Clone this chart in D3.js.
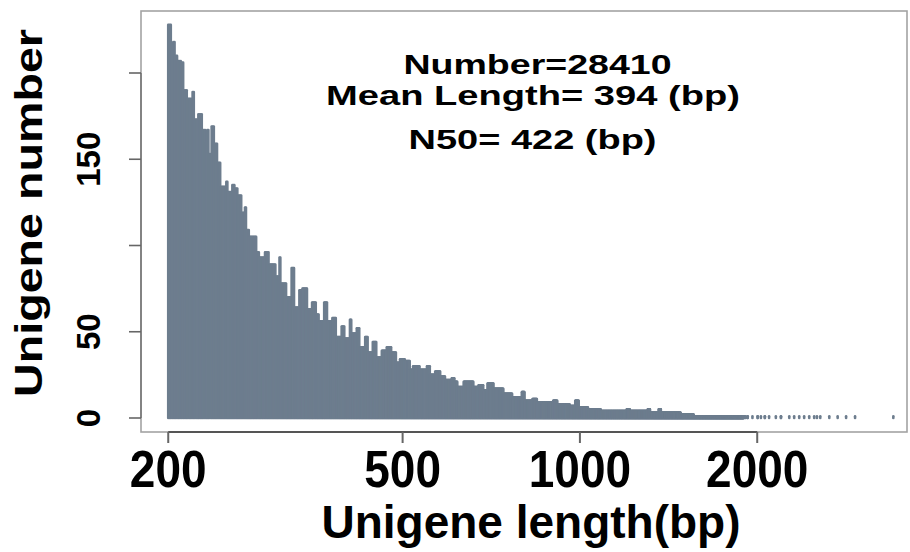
<!DOCTYPE html>
<html>
<head>
<meta charset="utf-8">
<script src="https://cdn.jsdelivr.net/npm/d3@7/dist/d3.min.js"></script>
<style>
    body { margin: 0; background: #fff; }
    svg { display: block; }
    text { font-family: "Liberation Sans", Arial, Helvetica, sans-serif; font-weight: bold; fill: #000; }
</style>
</head>
<body>
<svg id="chart" width="910" height="552"></svg>
<script>
// histogram: [first length, last length, unigenes per length]
const lengthRuns = [
    [200, 202, 228], [203, 203, 213], [204, 205, 218], [206, 207, 210], [208, 210, 207], [211, 212, 206],
    [213, 215, 190], [216, 219, 185], [220, 221, 189], [222, 224, 173], [225, 228, 176], [229, 231, 167],
    [232, 232, 160], [233, 234, 167], [235, 236, 153], [237, 239, 169], [240, 242, 159], [243, 245, 148],
    [246, 250, 134], [251, 252, 137], [253, 256, 131], [257, 259, 135], [260, 262, 133], [263, 266, 129],
    [267, 269, 119], [270, 271, 122], [272, 274, 109], [275, 282, 105], [283, 285, 96], [286, 291, 93],
    [292, 296, 96], [297, 304, 89], [305, 308, 82], [309, 310, 93], [311, 317, 78], [318, 323, 70],
    [324, 327, 87], [328, 333, 64], [334, 337, 74], [338, 344, 75], [345, 350, 63], [351, 356, 67],
    [357, 360, 60], [361, 367, 56], [368, 372, 67], [373, 379, 56], [380, 385, 58], [386, 393, 47],
    [394, 398, 53], [399, 406, 46], [407, 409, 57], [410, 417, 49], [418, 422, 52], [423, 431, 41],
    [432, 436, 47], [437, 444, 38], [445, 451, 44], [452, 460, 35], [461, 469, 39], [470, 478, 41],
    [479, 487, 38], [488, 494, 32], [495, 504, 34], [505, 514, 33], [515, 520, 28], [521, 534, 30],
    [535, 549, 28], [550, 556, 30], [557, 567, 25], [568, 579, 27], [580, 590, 24], [591, 605, 22],
    [606, 612, 23], [613, 619, 21], [620, 634, 18], [635, 659, 21], [660, 672, 18], [673, 685, 19],
    [686, 696, 16], [697, 713, 20], [714, 741, 17], [742, 767, 14], [768, 796, 12], [797, 805, 15],
    [806, 830, 10], [831, 845, 11], [846, 862, 9], [863, 900, 9], [901, 915, 10], [916, 935, 8],
    [936, 960, 8], [961, 981, 7], [982, 995, 10], [996, 1032, 6], [1033, 1084, 5], [1085, 1200, 4],
    [1201, 1215, 5], [1216, 1303, 4], [1304, 1315, 5], [1316, 1360, 3], [1361, 1372, 5], [1373, 1482, 3],
    [1483, 1559, 2], [1560, 1897, 1]
];
// single unigenes in the long tail
const tailLengths = [1905, 1912, 1926, 1927, 1963, 2003, 2004, 2029, 2060, 2061, 2095, 2151, 2194, 2195,
    2267, 2311, 2357, 2403, 2451, 2499, 2526, 2559, 2651, 2739, 2831, 2932, 3405];

const xTicks = [200, 500, 1000, 2000];
const yTicks = [0, 50, 100, 150, 200];
const yTickLabels = ['0', '50', '', '150', ''];
const statLines = ['Number=28410', 'Mean Length= 394 (bp)', 'N50= 422 (bp)'];

const svg = d3.select('#chart');
const box = {left: 141, top: 11, right: 907, bottom: 432};

let x = d3.scaleLog().domain([179.8, 3592]).range([box.left, box.right]);
let y = d3.scaleLinear().domain([0, 200]).range([418, 73]);

let bars = [];
lengthRuns.forEach(([a, b, n]) => {
    for (let len = a; len <= b; len++) bars.push({len: len, n: n});
});
tailLengths.forEach(len => bars.push({len: len, n: 1}));

// one vertical line per length, like R's type="h"
svg.append('g')
    .selectAll('line')
    .data(bars)
    .join('line')
    .attr('x1', d => x(d.len))
    .attr('x2', d => x(d.len))
    .attr('y1', y(0))
    .attr('y2', d => y(d.n))
    .attr('stroke', '#6d7d8e')
    .attr('stroke-width', 2.6)
    .attr('stroke-linecap', 'round');

// frame
svg.append('rect')
    .attr('x', box.left)
    .attr('y', box.top)
    .attr('width', box.right - box.left)
    .attr('height', box.bottom - box.top)
    .attr('fill', 'none')
    .attr('stroke', '#a3a3a3')
    .attr('stroke-width', 1.6);

// x axis
let xg = svg.append('g');
xg.append('line')
    .attr('x1', x(xTicks[0])).attr('x2', x(xTicks[xTicks.length - 1]))
    .attr('y1', box.bottom).attr('y2', box.bottom)
    .attr('stroke', '#555').attr('stroke-width', 2);
xg.selectAll('.xtick')
    .data(xTicks)
    .join('line')
    .attr('class', 'xtick')
    .attr('x1', d => x(d)).attr('x2', d => x(d))
    .attr('y1', box.bottom).attr('y2', box.bottom + 11)
    .attr('stroke', '#666').attr('stroke-width', 2);
xg.selectAll('.xlab')
    .data(xTicks)
    .join('text')
    .attr('class', 'xlab')
    .attr('text-anchor', 'middle')
    .attr('font-size', 46)
    .attr('transform', d => `translate(${x(d)}, 487) scale(1, 1.12)`)
    .text(d => d);

// y axis
let yg = svg.append('g');
yg.append('line')
    .attr('x1', box.left).attr('x2', box.left)
    .attr('y1', y(0)).attr('y2', y(200))
    .attr('stroke', '#777').attr('stroke-width', 1.6);
yg.selectAll('.ytick')
    .data(yTicks)
    .join('line')
    .attr('class', 'ytick')
    .attr('x1', box.left - 12).attr('x2', box.left)
    .attr('y1', d => y(d)).attr('y2', d => y(d))
    .attr('stroke', '#666').attr('stroke-width', 1.6);
yg.selectAll('.ylab')
    .data(yTicks)
    .join('text')
    .attr('class', 'ylab')
    .attr('text-anchor', 'middle')
    .attr('font-size', 33)
    .attr('transform', d => `translate(100, ${y(d)}) rotate(-90)`)
    .text((d, i) => yTickLabels[i]);

// axis titles
svg.append('text')
    .attr('text-anchor', 'middle')
    .attr('font-size', 46)
    .attr('x', 531).attr('y', 538)
    .text('Unigene length(bp)');

svg.append('text')
    .attr('text-anchor', 'middle')
    .attr('font-size', 39)
    .attr('textLength', 368)
    .attr('lengthAdjust', 'spacingAndGlyphs')
    .attr('transform', 'translate(41.5, 213) rotate(-90)')
    .text('Unigene number');

// summary statistics
const statPos = [[537.5, 74, 268], [533, 105, 414], [532.5, 149, 248]];
svg.append('g')
    .selectAll('text')
    .data(statLines)
    .join('text')
    .attr('text-anchor', 'middle')
    .attr('font-size', 28.5)
    .attr('x', (d, i) => statPos[i][0])
    .attr('y', (d, i) => statPos[i][1])
    .attr('textLength', (d, i) => statPos[i][2])
    .attr('lengthAdjust', 'spacingAndGlyphs')
    .text(d => d);
</script>
</body>
</html>
